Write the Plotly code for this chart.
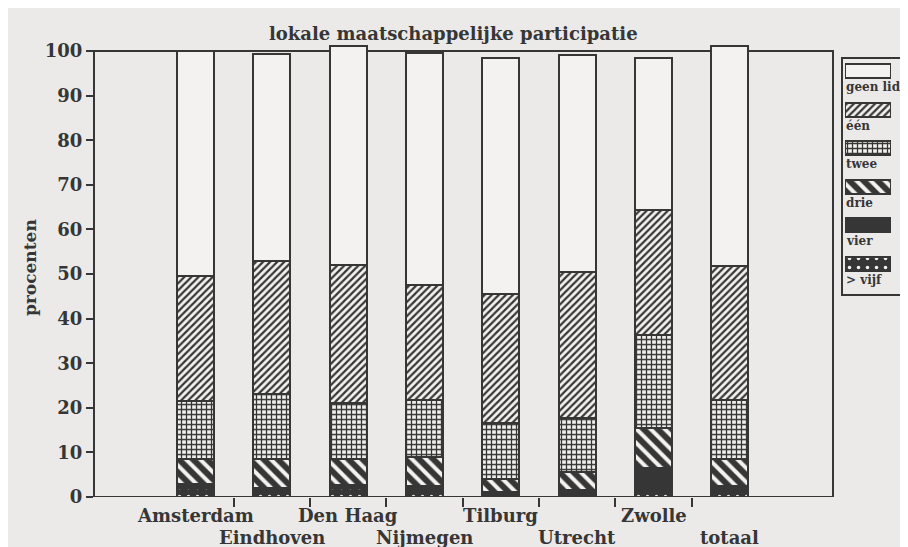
import plotly.graph_objects as go

# ---------------- data ----------------
cities = ["Amsterdam", "Eindhoven", "Den Haag", "Nijmegen", "Tilburg", "Utrecht", "Zwolle", "totaal"]
series_names = ["> vijf", "vier", "drie", "twee", "één", "geen lid"]   # bottom -> top
vijf = [2.0, 1.5, 2.0, 1.8, 0.3, 0.5, 1.5, 1.8]
vier = [1.0, 0.5, 0.7, 0.7, 0.7, 1.0, 5.0, 0.7]
drie = [5.5, 6.5, 5.8, 6.5, 3.0, 4.0, 9.0, 5.9]
twee = [13.0, 14.5, 12.5, 12.8, 12.5, 12.2, 20.9, 13.4]
een = [28.0, 30.0, 31.0, 25.8, 29.0, 32.7, 28.0, 29.9]
geen = [50.5, 46.2, 49.0, 51.9, 53.0, 48.6, 34.1, 49.3]
y_ticks = [0, 10, 20, 30, 40, 50, 60, 70, 80, 90, 100]
title_text = "lokale maatschappelijke participatie"
y_title = "procenten"

# ---------------- style ----------------
DARK = "#363636"
WHITE = "#f3f2f0"
BG = "#ebeae8"
FONT = "DejaVu Serif"

patterns = {
    "> vijf": dict(shape=".", fgcolor=WHITE, bgcolor=DARK, size=9, solidity=0.12),
    "vier": dict(shape="", bgcolor=DARK),
    "drie": dict(shape="\\", fgcolor=WHITE, bgcolor=DARK, size=10, solidity=0.4),
    "twee": dict(shape="+", fgcolor=DARK, bgcolor=WHITE, size=5, solidity=0.45),
    "één": dict(shape="/", fgcolor=DARK, bgcolor=WHITE, size=5, solidity=0.45),
    "geen lid": dict(shape="", bgcolor=WHITE),
}
values = {"> vijf": vijf, "vier": vier, "drie": drie, "twee": twee, "één": een, "geen lid": geen}

W, H = 908, 547
L = 86
PW = W - L           # paper width (r=0)
x_right_px = 825
y0_px, y100_px = 489, 43
ppu = (y0_px - y100_px) / 100.0
ytop = 102
ydom = [(H - y0_px) / H, (H - (y0_px - ytop * ppu)) / H]
xdom = [0, (x_right_px - L) / PW]


def make_marker(name):
    p = patterns[name]
    col = p.get("bgcolor")
    marker = dict(color=col, line=dict(color=DARK, width=2))
    if p.get("shape"):
        pat = {k: v for k, v in p.items() if k != "bgcolor"}
        marker["pattern"] = dict(pat, bgcolor=col, fillmode="replace")
    return marker


fig = go.Figure()
xs = list(range(len(cities)))
for name in series_names:
    fig.add_trace(go.Bar(x=xs, y=values[name], name=name, width=0.485,
                         marker=make_marker(name), showlegend=False,
                         xaxis="x", yaxis="y"))

# custom legend (swatch above label) drawn as small bars in a second axis system
leg_top_px, leg_bot_px = 48, 287
leg_step = 38.6
for k, name in enumerate(reversed(series_names)):
    yc = 15 + leg_step * k
    fig.add_trace(go.Bar(x=[1], y=[yc], orientation="h", width=14, marker=make_marker(name),
                         showlegend=False, xaxis="x2", yaxis="y2", hoverinfo="skip"))
    fig.add_annotation(x=0, y=yc + 16, xref="x2", yref="y2", text=name, showarrow=False,
                       xanchor="left", yanchor="middle", xshift=-1,
                       font=dict(family=FONT, size=12, color=DARK, weight="bold"))

# x category labels (staggered)
for i, c in enumerate(cities):
    fig.add_annotation(x=i, y=ydom[0], xref="x", yref="paper", text=c, showarrow=False,
                       yanchor="middle", yshift=-18 if i % 2 == 0 else -40,
                       font=dict(family=FONT, size=18, color=DARK, weight="bold"))

# frame
fig.add_shape(type="rect", xref="x domain", yref="y", x0=0, x1=1, y0=0, y1=100,
              line=dict(color=DARK, width=2), layer="below")
# legend box
fig.add_shape(type="rect", xref="paper", yref="paper",
              x0=(834 - L) / PW, x1=1.05,
              y0=(H - leg_bot_px) / H, y1=(H - 50) / H,
              line=dict(color=DARK, width=2))

fig.add_annotation(x=(445 - L) / PW, y=(H - 25) / H, xref="paper", yref="paper",
                   text=title_text, showarrow=False, xanchor="center", yanchor="middle",
                   font=dict(family=FONT, size=18, color=DARK, weight="bold"))
fig.add_annotation(x=(22 - L) / PW, y=(H - 260) / H, xref="paper", yref="paper",
                   text=y_title, showarrow=False, textangle=-90,
                   xanchor="center", yanchor="middle",
                   font=dict(family=FONT, size=17, color=DARK, weight="bold"))

fig.update_layout(
    width=W, height=H, barmode="stack",
    margin=dict(l=L, r=0, t=0, b=0, autoexpand=False),
    paper_bgcolor=BG, plot_bgcolor=BG,
    xaxis=dict(domain=xdom, range=[-1.33, 8.35], showgrid=False, zeroline=False,
               showline=False, tickvals=[i + 0.5 for i in range(len(cities) - 1)],
               ticks="outside", ticklen=9, tickwidth=2, tickcolor=DARK,
               showticklabels=False),
    yaxis=dict(domain=ydom, range=[0, ytop], showgrid=False, zeroline=False,
               showline=False, tickvals=y_ticks, ticks="outside", ticklen=7,
               tickwidth=2, tickcolor=DARK,
               tickfont=dict(family=FONT, size=18, color=DARK, weight="bold")),
    xaxis2=dict(domain=[(837 - L) / PW, (883 - L) / PW], range=[0, 1], visible=False,
                fixedrange=True),
    yaxis2=dict(domain=[(H - leg_bot_px) / H, (H - leg_top_px) / H],
                range=[leg_bot_px - leg_top_px, 0], visible=False, fixedrange=True,
                anchor="x2"),
    bargap=0,
)
fig.write_html("out.html")
